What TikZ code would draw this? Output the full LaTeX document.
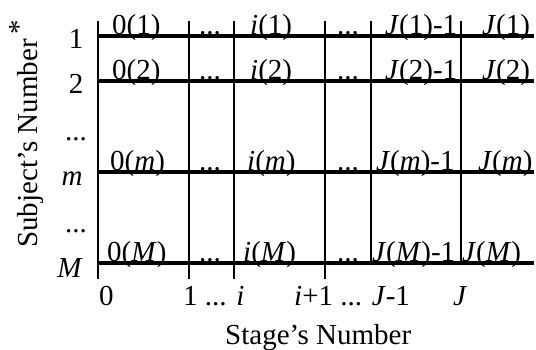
\documentclass[tikz,border=0pt]{standalone}
\usepackage{fontspec}
\setmainfont{Liberation Serif}
\begin{document}
\begin{tikzpicture}[x=1pt,y=-1pt,
  hline/.style={line width=3.2pt},
  vline/.style={line width=1.6pt},
  lbl/.style={inner sep=0pt,anchor=base west,font=\fontsize{29}{32}\selectfont},
  lblc/.style={inner sep=0pt,anchor=base,font=\fontsize{29}{32}\selectfont}]
\useasboundingbox (0,0) rectangle (536,349);
% coordinates
\foreach \n/\x in {a/98,b/189,c/234,d/325,e/371,f/461}{
  \coordinate (t\n) at (\x,21);
}
\coordinate (ba) at (98,279);
\coordinate (bb) at (189,279);
\coordinate (bc) at (234,279);
\coordinate (bd) at (325,279);
\coordinate (be) at (371,263);
\coordinate (bf) at (461,263);
\foreach \n/\y in {r1/36,r2/81,rm/172,rM/263}{
  \coordinate (\n L) at (98,\y);
  \coordinate (\n R) at (534,\y);
}
% vertical lines
\foreach \n in {a,b,c,d,e,f}{\draw[vline] (t\n) -- (b\n);}
% horizontal lines
\foreach \n in {r1,r2,rm,rM}{\draw[hline] (\n L) -- (\n R);}
% row 1
\node[lbl] (c10) at (112,34) {0(1)};
\node[lblc] (c11) at (210,34) {...};
\node[lbl] (c12) at (250,34) {\textit{i}(1)};
\node[lblc] (c13) at (348,34) {...};
\node[lbl] (c14) at (385,34) {\textit{J}(1)-1};
\node[lbl] (c15) at (482,34) {\textit{J}(1)};
% row 2
\node[lbl] (c20) at (112,79) {0(2)};
\node[lblc] (c21) at (210,79) {...};
\node[lbl] (c22) at (250,79) {\textit{i}(2)};
\node[lblc] (c23) at (348,79) {...};
\node[lbl] (c24) at (385,79) {\textit{J}(2)-1};
\node[lbl] (c25) at (482,79) {\textit{J}(2)};
% row m
\node[lbl] (cm0) at (110,170) {0(\textit{m})};
\node[lblc] (cm1) at (210,170) {...};
\node[lbl] (cm2) at (247,170) {\textit{i}(\textit{m})};
\node[lblc] (cm3) at (348,170) {...};
\node[lbl] (cm4) at (376,170) {\textit{J}(\textit{m})-1};
\node[lbl] (cm5) at (478,170) {\textit{J}(\textit{m})};
% row M
\node[lbl] (cM0) at (107,261) {0(\textit{M})};
\node[lblc] (cM1) at (210,261) {...};
\node[lbl] (cM2) at (243,261) {\textit{i}(\textit{M})};
\node[lblc] (cM3) at (348,261) {...};
\node[lbl] (cM4) at (372,261) {\textit{J}(\textit{M})-1};
\node[lbl] (cM5) at (462,261) {\textit{J}(\textit{M})};
% row labels
\node[lblc] (y1) at (76,48) {1};
\node[lblc] (y2) at (76,93) {2};
\node[lblc] (yd1) at (76,140) {...};
\node[lblc] (ym) at (72,185) {\textit{m}};
\node[lblc] (yd2) at (76,232) {...};
\node[lblc] (yM) at (70,277) {\textit{M}};
% column labels
\node[lbl] (x0) at (99,305) {0};
\node[lbl] (x1) at (183,305) {1 ... \textit{i}};
\node[lbl] (x2) at (294,305) {\textit{i}+1 ... \textit{J}-1};
\node[lbl] (x3) at (453,305) {\textit{J}};
% axis titles
\node[lbl] (xt) at (225,344) {Stage’s Number};
\node[lbl,rotate=90] (yt) at (37,248) {Subject’s Number\,\raisebox{0.3em}{*}};
\end{tikzpicture}
\end{document}
